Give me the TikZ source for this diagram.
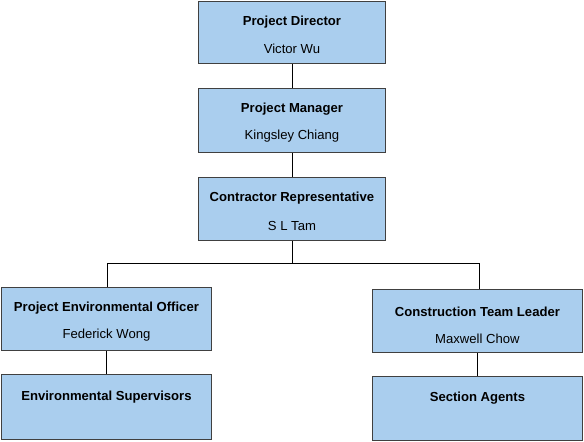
\documentclass[tikz,border=0pt]{standalone}
\usepackage{fontspec}
\setmainfont{Liberation Sans}
\definecolor{boxfill}{RGB}{170,206,238}
\definecolor{boxline}{RGB}{64,64,64}
\begin{document}
\begin{tikzpicture}[x=1pt,y=-1pt,
  orgbox/.style={draw=boxline,fill=boxfill,line width=0.9pt,inner sep=0pt,anchor=north west},
  ttl/.style={font=\bfseries\fontsize{13.1}{15}\selectfont,inner sep=0pt,anchor=center},
  nme/.style={font=\fontsize{13.1}{15}\selectfont,inner sep=0pt,anchor=center},
  link/.style={draw=black,line width=0.9pt}]
\useasboundingbox (0,0) rectangle (584,442);
% boxes
\node[orgbox,minimum width=187pt,minimum height=62pt] (pd) at (198,1) {};
\node[orgbox,minimum width=187pt,minimum height=64pt] (pm) at (198,88) {};
\node[orgbox,minimum width=187pt,minimum height=63pt] (cr) at (198,177) {};
\node[orgbox,minimum width=210pt,minimum height=63pt] (peo) at (1,287) {};
\node[orgbox,minimum width=210pt,minimum height=65pt] (es) at (1,374) {};
\node[orgbox,minimum width=210pt,minimum height=63pt] (ctl) at (372,289) {};
\node[orgbox,minimum width=210pt,minimum height=64pt] (sa) at (372,376) {};
% texts
\node[ttl] (pdt) at ([yshift=-21.5pt]pd.north) {Project Director};
\node[nme] (pdn) at ([yshift=-47.5pt]pd.north) {Victor Wu};
\node[ttl] (pmt) at ([yshift=-21.5pt]pm.north) {Project Manager};
\node[nme] (pmn) at ([yshift=-48.5pt]pm.north) {Kingsley Chiang};
\node[ttl] (crt) at ([yshift=-21.5pt]cr.north) {Contractor Representative};
\node[nme] (crn) at ([yshift=-48.5pt]cr.north) {S L Tam};
\node[ttl] (peot) at ([yshift=-21.5pt]peo.north) {Project Environmental Officer};
\node[nme] (peon) at ([yshift=-48.5pt]peo.north) {Federick Wong};
\node[ttl] (est) at ([yshift=-23.5pt]es.north) {Environmental Supervisors};
\node[ttl] (ctlt) at ([yshift=-22.5pt]ctl.north) {Construction Team Leader};
\node[nme] (ctln) at ([yshift=-49.5pt]ctl.north) {Maxwell Chow};
\node[ttl] (sat) at ([yshift=-22.5pt]sa.north) {Section Agents};
% connectors
\coordinate (jl) at (107,263);
\coordinate (jr) at (479,263);
\coordinate (j) at (cr.south |- jl);
\draw[link] (pd.south) -- (pm.north);
\draw[link] (pm.south) -- (cr.north);
\draw[link] (cr.south) -- (j);
\draw[link] (jl) -- (jr);
\draw[link] (jl) -- (jl |- peo.north);
\draw[link] (jr) -- (jr |- ctl.north);
\draw[link] ([xshift=-0.5pt]peo.south) -- ([xshift=-0.5pt]es.north);
\draw[link] ([xshift=-0.5pt]ctl.south) -- ([xshift=-0.5pt]sa.north);
\end{tikzpicture}
\end{document}
